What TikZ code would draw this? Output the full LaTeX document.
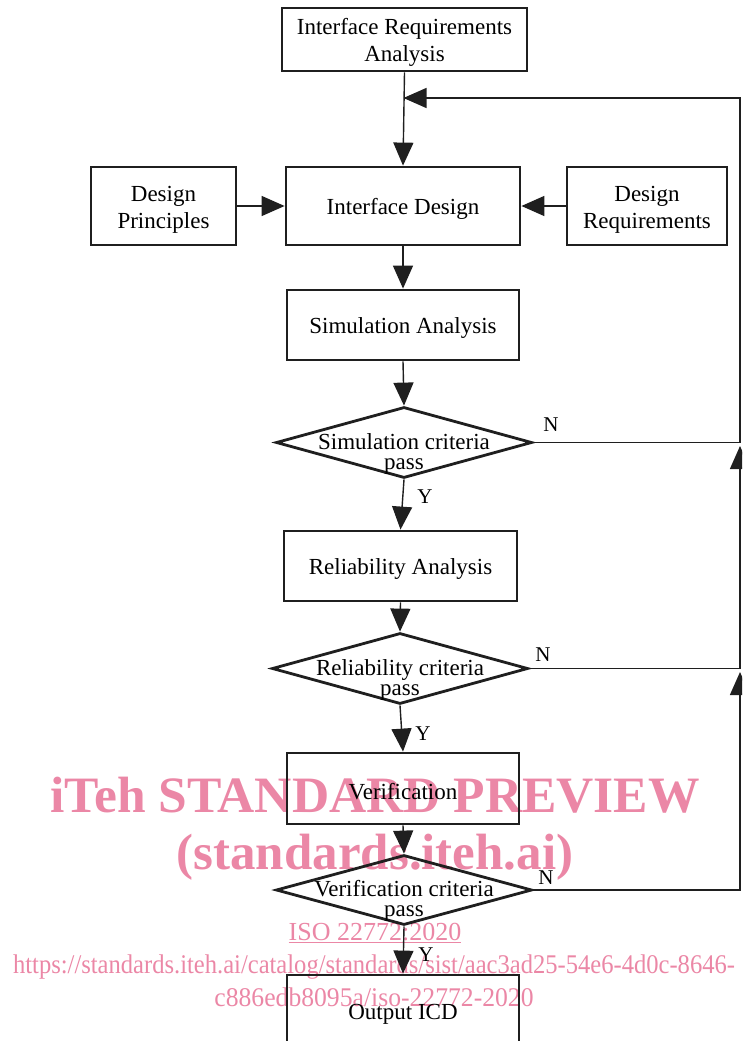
\documentclass[tikz,border=0pt]{standalone}
\usepackage{fontspec}
\setmainfont{Liberation Serif}
\usetikzlibrary{shapes.geometric,arrows.meta}

\definecolor{ink}{rgb}{0.12,0.12,0.12}
\definecolor{wmark}{rgb}{0.92,0.53,0.65}

\tikzset{
  box/.style={draw=ink, line width=2.8pt, rectangle, align=center, inner sep=2pt,
    font=\fontsize{23}{27}\selectfont},
  decision/.style={draw=ink, line width=2.8pt, diamond, inner sep=0pt,
    minimum width=256pt, minimum height=71pt},
  dtext/.style={align=center, inner sep=0pt, font=\fontsize{23}{20}\selectfont},
  yn/.style={inner sep=0pt, font=\fontsize{21}{22}\selectfont},
  flow/.style={draw=ink, line width=1.4pt, -{Triangle[length=23pt,width=20pt]}},
  wm/.style={text=wmark, inner sep=0pt},
}
\newcommand{\lowstrut}{\rule{0pt}{22pt}}

\begin{document}
\begin{tikzpicture}[x=1pt,y=-1pt]
\useasboundingbox (0,0) rectangle (742,1041);
\clip (0,0) rectangle (742,1041);

% watermark
\node[wm, font=\fontsize{51}{51}\bfseries] (wm1) at (375,795) {\scalebox{1.01}[1]{iTeh STANDARD PREVIEW}};
\node[wm, font=\fontsize{51}{51}\bfseries] (wm2) at (375,857) {(standards.iteh.ai)};
\node[wm, font=\fontsize{26}{26}\selectfont] (wm3) at (375,933) {\underline{ISO 22772:2020}};
\node[wm, font=\fontsize{27}{27}\selectfont] (wm4) at (374,967) {\scalebox{0.91}[1]{https://standards.iteh.ai/catalog/standards/sist/aac3ad25-54e6-4d0c-8646-}};
\node[wm, font=\fontsize{27}{27}\selectfont] (wm5) at (374,997) {\scalebox{0.95}[1]{c886edb8095a/iso-22772-2020}};

% boxes
\node[box, minimum width=245pt, minimum height=63pt] (req) at (404.5,39.5) {\lowstrut Interface Requirements\\Analysis};
\node[box, minimum width=234pt, minimum height=78pt] (design) at (403,206) {\lowstrut Interface Design};
\node[box, minimum width=145pt, minimum height=78pt] (princ) at (163.5,206) {\lowstrut Design\\Principles};
\node[box, minimum width=160pt, minimum height=78pt] (dreq) at (647,206) {\lowstrut Design\\Requirements};
\node[box, minimum width=232pt, minimum height=70pt] (sim) at (403,325) {\lowstrut Simulation Analysis};
\node[box, minimum width=233pt, minimum height=70pt] (rel) at (400.5,566) {\lowstrut Reliability Analysis};
\node[box, minimum width=232pt, minimum height=71pt] (ver) at (403,788.5) {\lowstrut Verification};
\node[box, minimum width=232pt, minimum height=71pt] (out) at (403,1010.5) {\lowstrut Output ICD};

% decisions
\node[decision] (simok) at (404,442.5) {};
\node[dtext] (simokt) at ([yshift=-11pt]simok.center) {Simulation criteria\\pass};
\node[decision] (relok) at (400,668.5) {};
\node[dtext] (relokt) at ([yshift=-11pt]relok.center) {Reliability criteria\\pass};
\node[decision, minimum height=70pt] (verok) at (404,890) {};
\node[dtext] (verokt) at ([yshift=-11pt]verok.center) {Verification criteria\\pass};

% labels
\node[yn] (n1) at (551,425) {N};
\node[yn] (n2) at (543,655) {N};
\node[yn] (n3) at (546,878) {N};
\node[yn] (y1) at (425,497) {Y};
\node[yn] (y2) at (423,734) {Y};
\node[yn] (y3) at (426,955) {Y};

% return path
\coordinate (rtop) at (740,98);
\coordinate (tin) at (403.5,98);
\coordinate (c1) at (740,442.5);
\coordinate (c1b) at (740,446);
\coordinate (c2) at (740,668.5);
\coordinate (c2b) at (740,672);
\coordinate (c3) at (740,890);

% arrows
\draw[flow] (req.south) -- (design.north);
\draw[flow] (princ.east) -- (design.west);
\draw[flow] (dreq.west) -- (design.east);
\draw[flow] (design.south) -- (sim.north);
\draw[flow] (sim.south) -- (simok.north);
\draw[flow] (simok.south) -- (rel.north);
\draw[flow] (rel.south) -- (relok.north);
\draw[flow] (relok.south) -- (ver.north);
\draw[flow] (ver.south) -- (verok.north);
\draw[flow] (verok.south) -- (out.north);

\draw[flow] (verok.east) -- (c3) -- (c2b);
\draw[flow] (relok.east) -- (c2) -- (c1b);
\draw[flow] (simok.east) -- (c1) -- (rtop) -- (tin);
\end{tikzpicture}
\end{document}
